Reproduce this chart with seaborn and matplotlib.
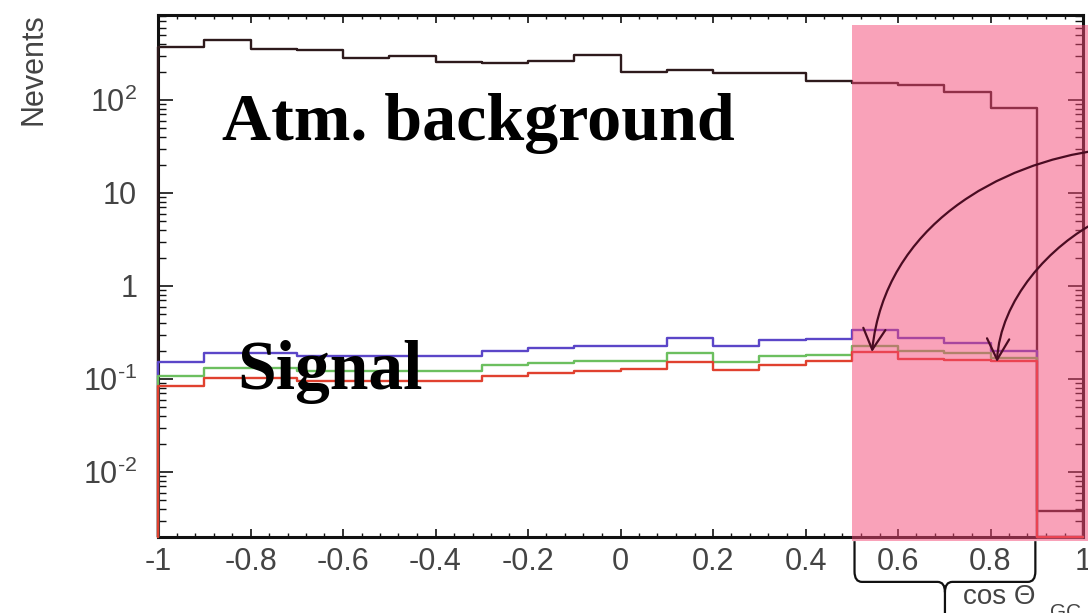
import numpy as np
import pandas as pd
import matplotlib
matplotlib.use("Agg")
import matplotlib.pyplot as plt
import matplotlib.patches as mpatches
from matplotlib.path import Path
from matplotlib.transforms import Affine2D
from matplotlib.ticker import FixedLocator, LogLocator, NullFormatter, AutoMinorLocator
import seaborn as sns

# ---- data -------------------------------------------------------------
# cos(Theta_GC) binning: 20 bins of width 0.1
bin_edges = np.round(np.linspace(-1.0, 1.0, 21), 2)

atm_background = [374, 441, 351, 346, 281, 299, 254, 248, 265, 305,
                  201, 210, 197, 195, 160, 153, 145, 121, 81, 0.0038]
signal_purple = [0.154, 0.190, 0.190, 0.176, 0.176, 0.176, 0.176, 0.199, 0.214, 0.229,
                 0.229, 0.277, 0.225, 0.263, 0.266, 0.335, 0.277, 0.245, 0.199, 0.0]
signal_green = [0.109, 0.131, 0.131, 0.122, 0.122, 0.122, 0.122, 0.140, 0.149, 0.158,
                0.155, 0.191, 0.152, 0.176, 0.183, 0.229, 0.199, 0.191, 0.169, 0.0]
signal_red = [0.085, 0.102, 0.102, 0.094, 0.094, 0.094, 0.094, 0.107, 0.115, 0.123,
              0.127, 0.153, 0.124, 0.143, 0.155, 0.194, 0.165, 0.162, 0.155, 0.0]

series_names = ["atm", "purple", "green", "red"]
series_values = [atm_background, signal_purple, signal_green, signal_red]
series_colors = {"atm": "#2e1a1c", "purple": "#5b46c8", "green": "#6cbf5f", "red": "#e0412f"}

x_tick_values = [-1.0, -0.8, -0.6, -0.4, -0.2, 0.0, 0.2, 0.4, 0.6, 0.8, 1.0]
x_tick_labels = ["-1", "-0.8", "-0.6", "-0.4", "-0.2", "0", "0.2", "0.4", "0.6", "0.8", "1"]
y_tick_values = [1e-2, 1e-1, 1.0, 10.0, 100.0]
y_tick_labels = [r"$10^{\text{-}2}$", r"$10^{\text{-}1}$", "1", "10", r"$10^{2}$"]

y_min, y_max = 0.0020, 820.0
signal_window = (0.5, 0.9)

# ---- style ------------------------------------------------------------
sns.set_style("ticks")
plt.rcParams["font.family"] = ["Liberation Sans", "DejaVu Sans"]
plt.rcParams["mathtext.fontset"] = "custom"
plt.rcParams["mathtext.rm"] = "Liberation Sans"
plt.rcParams["mathtext.it"] = "Liberation Sans:italic"
plt.rcParams["mathtext.bf"] = "Liberation Sans:bold"

W, H = 1088, 613
fig = plt.figure(figsize=(W / 100, H / 100), dpi=100)
fig.patch.set_facecolor("white")
ax = fig.add_axes([158 / W, (H - 537) / H, (1083 - 158) / W, (537 - 15) / H])
ax.set_yscale("log")
ax.set_xlim(-1, 1)
ax.set_ylim(y_min, y_max)


# ---- closed step histograms (ROOT style: edges drop to the baseline) --
def step_outline(values):
    v = np.asarray(values, dtype=float)
    v = np.where(v > 0, v, y_min)
    xs = np.repeat(bin_edges, 2)
    ys = np.concatenate([[y_min], np.repeat(v, 2), [y_min]])
    return xs, ys


frames = []
for name, vals in zip(series_names, series_values):
    xs, ys = step_outline(vals)
    frames.append(pd.DataFrame({"cos_theta": xs, "nevents": ys, "series": name}))
hist_df = pd.concat(frames, ignore_index=True)

sns.lineplot(data=hist_df, x="cos_theta", y="nevents", hue="series",
             hue_order=series_names, palette=series_colors, estimator=None,
             sort=False, legend=False, linewidth=1.7, clip_on=False, zorder=3, ax=ax)
ax.set_xlabel("")
ax.set_ylabel("")

# ---- axes, ticks ------------------------------------------------------
ax.xaxis.set_major_locator(FixedLocator(x_tick_values))
ax.set_xticklabels(x_tick_labels)
ax.xaxis.set_minor_locator(AutoMinorLocator(5))
ax.yaxis.set_major_locator(FixedLocator(y_tick_values))
ax.set_yticklabels(y_tick_labels)
ax.yaxis.set_minor_locator(LogLocator(base=10, subs=np.arange(2, 10)))
ax.yaxis.set_minor_formatter(NullFormatter())

ax.tick_params(axis="both", which="both", direction="in", top=True, right=True,
               color="#111111", labelcolor="#444444", labelsize=22)
ax.tick_params(axis="x", which="major", length=6, width=1.2, pad=7)
ax.tick_params(axis="x", which="minor", length=3, width=1.0)
ax.tick_params(axis="y", which="major", length=11, width=1.2, pad=15)
ax.tick_params(axis="y", which="minor", length=5.5, width=1.0)
for side in ["top", "bottom", "left", "right"]:
    ax.spines[side].set_visible(True)
    ax.spines[side].set_linewidth(2.2)
    ax.spines[side].set_color("#111111")

# ---- highlighted signal window ----------------------------------------
xtr = ax.get_xaxis_transform()
ax.add_patch(mpatches.Rectangle((signal_window[0], -0.008), 0.513, 0.989,
                                transform=xtr, facecolor="#F54775", alpha=0.5,
                                linewidth=0, clip_on=False, zorder=5))

# brace under the window
xl, xr = signal_window[0] + 0.006, signal_window[1] - 0.003
xc = 0.5 * (xl + xr)
y0, yh, ytip = -0.008, -0.086, -0.25
dxc, dyc = 0.016, 0.02
brace_verts = [(xl, y0), (xl, yh + dyc), (xl, yh), (xl + dxc, yh),
               (xc - dxc, yh), (xc, yh), (xc, yh - dyc), (xc, ytip),
               (xc, yh - dyc), (xc, yh), (xc + dxc, yh),
               (xr - dxc, yh), (xr, yh), (xr, yh + dyc), (xr, y0)]
brace_codes = [Path.MOVETO, Path.LINETO, Path.CURVE3, Path.CURVE3,
               Path.LINETO, Path.CURVE3, Path.CURVE3, Path.LINETO,
               Path.MOVETO, Path.CURVE3, Path.CURVE3,
               Path.LINETO, Path.CURVE3, Path.CURVE3, Path.LINETO]
ax.add_patch(mpatches.PathPatch(Path(brace_verts, brace_codes), transform=xtr,
                                fill=False, edgecolor="#111111", linewidth=1.6,
                                clip_on=False, zorder=6))

# ---- texts ------------------------------------------------------------
px = Affine2D().scale(1 / W, -1 / H).translate(0, 1) + fig.transFigure

fig.text(33, 13, "Nevents", rotation=90, ha="center", va="top", transform=px,
         fontsize=22, color="#444444")
fig.text(222, 140, "Atm. background", transform=px, ha="left", va="baseline",
         fontsize=49, fontweight="bold", family="Liberation Serif", color="black",
         zorder=7)
fig.text(237, 389, "Signal", transform=px, ha="left", va="baseline",
         fontsize=50, fontweight="bold", family="Liberation Serif", color="black",
         zorder=7)
fig.text(963, 604, "cos \u0398", transform=px, ha="left", va="baseline",
         fontsize=20, color="#444444")
fig.text(1050, 618, "GC", transform=px, ha="left", va="baseline",
         fontsize=15, color="#444444")

# curved arrows pointing at the signal histograms inside the window
arrow_paths = [
    [(1100, 150), (1000, 163), (885, 225), (872, 352)],
    [(1100, 220), (1050, 245), (1000, 300), (997, 362)],
]
for verts in arrow_paths:
    p = Path(verts, [Path.MOVETO, Path.CURVE4, Path.CURVE4, Path.CURVE4])
    arr = mpatches.FancyArrowPatch(path=p, transform=px,
                                   arrowstyle="->,head_length=0.75,head_width=0.4",
                                   mutation_scale=20, color="#4a0c22", linewidth=1.6,
                                   zorder=8)
    fig.add_artist(arr)

fig.savefig("out.png", dpi=100)
